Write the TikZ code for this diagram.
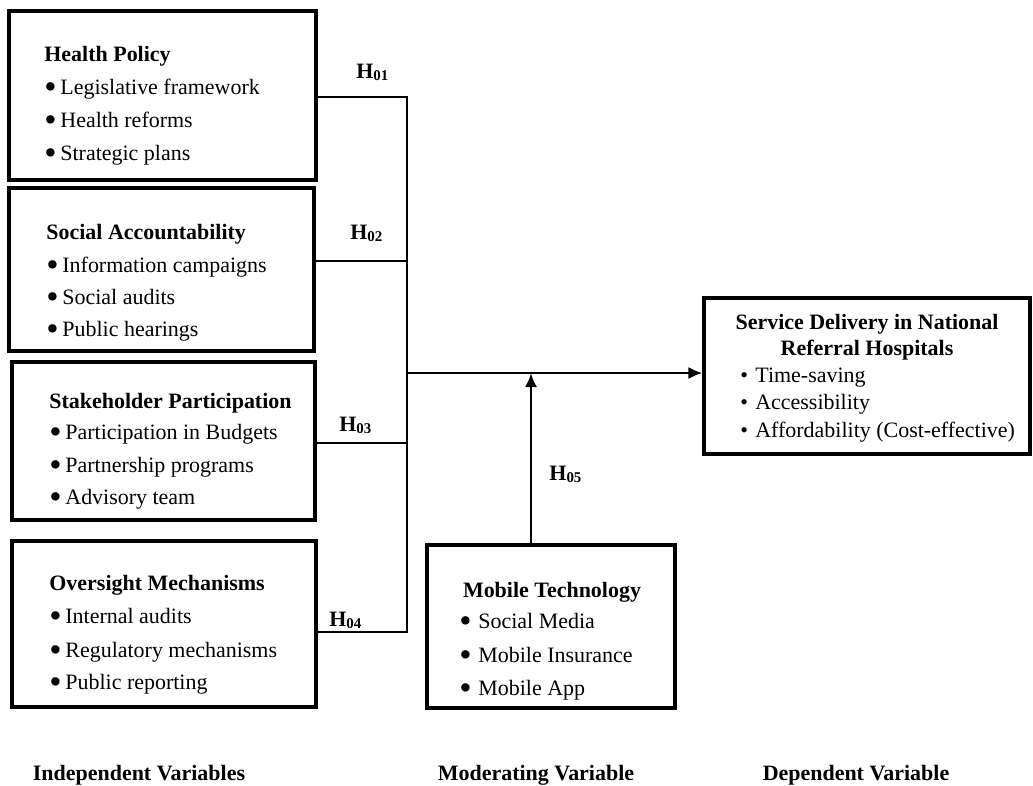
\documentclass[tikz,border=0pt]{standalone}
\usepackage{fontspec}
\setmainfont{Liberation Serif}
\usepackage{tikz}
\usetikzlibrary{positioning}
\usetikzlibrary{calc}
\usetikzlibrary{fit}
\usetikzlibrary{arrows.meta}

\newcommand{\bigdot}{\raisebox{-0.19em}{\scalebox{1.6}{\textbullet}}}
\newcommand{\itm}[1]{\makebox[9.1pt][l]{\bigdot}#1}
\newcommand{\mitm}[1]{\makebox[10.8pt][l]{\bigdot}#1}
\newcommand{\ditm}[1]{\makebox[8.5pt][l]{\textbullet}#1}
\newcommand{\hyp}[1]{\textbf{H\raisebox{-0.12em}{\fontsize{8.5}{10}\selectfont #1}}}

\begin{document}
\begin{tikzpicture}[x=0.02cm, y=-0.02cm, line width=1.6pt,
  varbox/.style={draw, line width=1.8pt, inner sep=0pt},
  txt/.style={anchor=base west, inner sep=0pt, font=\fontsize{12.5}{15}\selectfont},
  ttl/.style={anchor=base west, inner sep=0pt, font=\fontsize{12.5}{15}\selectfont\bfseries},
  ctr/.style={anchor=base, inner sep=0pt, font=\fontsize{12.5}{15}\selectfont\bfseries},
  link/.style={line width=1.6pt},
  tip/.style={line width=1.6pt, -{Latex[length=8pt, width=7pt]}}]
\useasboundingbox (0,0) rectangle (1033,785);
% -- box 1: health policy --
\node[varbox, fit={(9,11) (316,180)}] (hp) {};
\node[ttl] (hp-t) at (43,61) {Health Policy};
\node[txt] (hp-1) at (43,94) {\itm{Legislative framework}};
\node[txt] (hp-2) at (43,127) {\itm{Health reforms}};
\node[txt] (hp-3) at (43,160) {\itm{Strategic plans}};
% -- box 2: social accountability --
\node[varbox, fit={(9,188) (314,351)}] (sa) {};
\node[ttl] (sa-t) at (45,239) {Social Accountability};
\node[txt] (sa-1) at (45,272) {\itm{Information campaigns}};
\node[txt] (sa-2) at (45,304) {\itm{Social audits}};
\node[txt] (sa-3) at (45,336) {\itm{Public hearings}};
% -- box 3: stakeholder participation --
\node[varbox, fit={(12,362) (315,520)}] (sp) {};
\node[ttl] (sp-t) at (48,408) {Stakeholder Participation};
\node[txt] (sp-1) at (48,439) {\itm{Participation in Budgets}};
\node[txt] (sp-2) at (48,472) {\itm{Partnership programs}};
\node[txt] (sp-3) at (48,504) {\itm{Advisory team}};
% -- box 4: oversight mechanisms --
\node[varbox, fit={(12,541) (316,707)}] (om) {};
\node[ttl] (om-t) at (48,590) {Oversight Mechanisms};
\node[txt] (om-1) at (48,623) {\itm{Internal audits}};
\node[txt] (om-2) at (48,657) {\itm{Regulatory mechanisms}};
\node[txt] (om-3) at (48,689) {\itm{Public reporting}};
% -- moderator: mobile technology --
\node[varbox, fit={(427,545) (675,708)}] (mt) {};
\node[ctr] (mt-t) at (552,597) {Mobile Technology};
\node[txt] (mt-1) at (458,628) {\mitm{Social Media}};
\node[txt] (mt-2) at (458,662) {\mitm{Mobile Insurance}};
\node[txt] (mt-3) at (458,695) {\mitm{Mobile App}};
% -- dependent: service delivery --
\node[varbox, fit={(704,298) (1030,454)}] (sd) {};
\node[ctr] (sd-t1) at (867,329) {Service Delivery in National};
\node[ctr] (sd-t2) at (867,355) {Referral Hospitals};
\node[txt] (sd-1) at (739,382) {\ditm{Time-saving}};
\node[txt] (sd-2) at (739,409) {\ditm{Accessibility}};
\node[txt] (sd-3) at (739,437) {\ditm{Affordability (Cost-effective)}};
% -- bus and arrows --
\coordinate (b1) at (407,97);
\coordinate (b2) at (407,261);
\coordinate (b3) at (407,443);
\coordinate (b4) at (407,632);
\coordinate (bm) at (407,373);
\coordinate (mj) at (531,373);
\draw[link] (hp.east |- b1) -- (b1) -- (b4) -- (om.east |- b4);
\draw[link] (sa.east |- b2) -- (b2);
\draw[link] (sp.east |- b3) -- (b3);
\draw[tip] (bm) -- (sd.west |- bm);
\draw[tip] (mj |- mt.north) -- (mj);
% -- hypothesis labels --
\node[txt] (h1) at (355,78) {\hyp{01}};
\node[txt] (h2) at (349,239) {\hyp{02}};
\node[txt] (h3) at (338,431) {\hyp{03}};
\node[txt] (h4) at (328,626) {\hyp{04}};
\node[txt] (h5) at (548,480) {\hyp{05}};
% -- column captions --
\node[ctr] (iv) at (139,780) {Independent Variables};
\node[ctr] (mv) at (536,780) {Moderating Variable};
\node[ctr] (dv) at (856,780) {Dependent Variable};
\end{tikzpicture}
\end{document}
